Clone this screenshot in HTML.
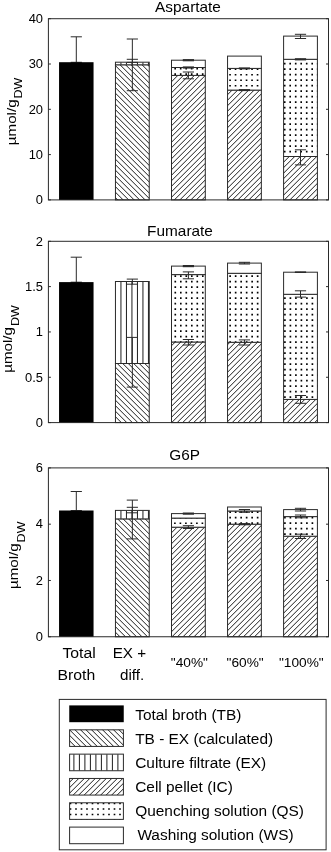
<!DOCTYPE html>
<html><head><meta charset="utf-8"><title>Chart</title>
<style>
html,body{margin:0;padding:0;background:#fff;}
body{width:331px;height:852px;overflow:hidden;}
svg{display:block;will-change:transform;font-family:"Liberation Sans", sans-serif;fill:#000;}
</style></head><body>
<svg width="331" height="852" viewBox="0 0 331 852">
<rect width="331" height="852" fill="#fff"/>

<line x1="76.3" y1="36.8" x2="76.3" y2="62.3" stroke="#2a2a2a" stroke-width="1.0"/>
<line x1="70.7" y1="36.8" x2="81.9" y2="36.8" stroke="#2a2a2a" stroke-width="1.0"/>
<line x1="70.7" y1="62.3" x2="81.9" y2="62.3" stroke="#2a2a2a" stroke-width="1.0"/>
<rect x="59.05" y="62.2" width="34.5" height="137.8" fill="#000"/>
<rect x="115.45" y="64.8" width="33.8" height="135.1" fill="#fff"/>
<clipPath id="c1"><rect x="115.45" y="64.8" width="33.8" height="135.1"/></clipPath>
<path clip-path="url(#c1)" d="M114.45 196.7L150.25 232.5M114.45 191.2L150.25 227M114.45 185.7L150.25 221.5M114.45 180.2L150.25 216M114.45 174.7L150.25 210.5M114.45 169.2L150.25 205M114.45 163.7L150.25 199.5M114.45 158.2L150.25 194M114.45 152.7L150.25 188.5M114.45 147.2L150.25 183M114.45 141.7L150.25 177.5M114.45 136.2L150.25 172M114.45 130.7L150.25 166.5M114.45 125.2L150.25 161M114.45 119.7L150.25 155.5M114.45 114.2L150.25 150M114.45 108.7L150.25 144.5M114.45 103.2L150.25 139M114.45 97.7L150.25 133.5M114.45 92.2L150.25 128M114.45 86.7L150.25 122.5M114.45 81.2L150.25 117M114.45 75.7L150.25 111.5M114.45 70.2L150.25 106M114.45 64.7L150.25 100.5M114.45 59.2L150.25 95M114.45 53.7L150.25 89.5M114.45 48.2L150.25 84M114.45 42.7L150.25 78.5M114.45 37.2L150.25 73M114.45 31.7L150.25 67.5" stroke="#1c1c1c" stroke-width="1.0" fill="none"/>
<rect x="115.45" y="64.8" width="33.8" height="135.1" fill="none" stroke="#2a2a2a" stroke-width="1.0"/>
<rect x="115.45" y="62.2" width="33.8" height="2.6" fill="#fff"/>
<clipPath id="c2"><rect x="115.45" y="62.2" width="33.8" height="2.6"/></clipPath>
<path clip-path="url(#c2)" d="M120.95 62.2V64.8M126.45 62.2V64.8M131.95 62.2V64.8M137.45 62.2V64.8M142.95 62.2V64.8M148.45 62.2V64.8" stroke="#1c1c1c" stroke-width="1.0" fill="none"/>
<rect x="115.45" y="62.2" width="33.8" height="2.6" fill="none" stroke="#2a2a2a" stroke-width="1.0"/>
<line x1="132.35" y1="39" x2="132.35" y2="90.7" stroke="#2a2a2a" stroke-width="1.0"/>
<line x1="126.75" y1="39" x2="137.95" y2="39" stroke="#2a2a2a" stroke-width="1.0"/>
<line x1="126.75" y1="90.7" x2="137.95" y2="90.7" stroke="#2a2a2a" stroke-width="1.0"/>
<line x1="132.35" y1="59.3" x2="132.35" y2="62.4" stroke="#2a2a2a" stroke-width="1.0"/>
<line x1="126.75" y1="59.3" x2="137.95" y2="59.3" stroke="#2a2a2a" stroke-width="1.0"/>
<line x1="126.75" y1="62.4" x2="137.95" y2="62.4" stroke="#2a2a2a" stroke-width="1.0"/>
<rect x="171.5" y="75.4" width="33.8" height="124.5" fill="#fff"/>
<clipPath id="c3"><rect x="171.5" y="75.4" width="33.8" height="124.5"/></clipPath>
<path clip-path="url(#c3)" d="M170.5 77.25L206.3 41.45M170.5 82.75L206.3 46.95M170.5 88.25L206.3 52.45M170.5 93.75L206.3 57.95M170.5 99.25L206.3 63.45M170.5 104.75L206.3 68.95M170.5 110.25L206.3 74.45M170.5 115.75L206.3 79.95M170.5 121.25L206.3 85.45M170.5 126.75L206.3 90.95M170.5 132.25L206.3 96.45M170.5 137.75L206.3 101.95M170.5 143.25L206.3 107.45M170.5 148.75L206.3 112.95M170.5 154.25L206.3 118.45M170.5 159.75L206.3 123.95M170.5 165.25L206.3 129.45M170.5 170.75L206.3 134.95M170.5 176.25L206.3 140.45M170.5 181.75L206.3 145.95M170.5 187.25L206.3 151.45M170.5 192.75L206.3 156.95M170.5 198.25L206.3 162.45M170.5 203.75L206.3 167.95M170.5 209.25L206.3 173.45M170.5 214.75L206.3 178.95M170.5 220.25L206.3 184.45M170.5 225.75L206.3 189.95M170.5 231.25L206.3 195.45" stroke="#1c1c1c" stroke-width="1.0" fill="none"/>
<rect x="171.5" y="75.4" width="33.8" height="124.5" fill="none" stroke="#2a2a2a" stroke-width="1.0"/>
<rect x="171.5" y="67.5" width="33.8" height="7.9" fill="#fff"/>
<clipPath id="c4"><rect x="171.5" y="67.5" width="33.8" height="7.9"/></clipPath>
<path clip-path="url(#c4)" d="M174.37 62.27h1.65v1.65h-1.65zM179.87 62.27h1.65v1.65h-1.65zM185.37 62.27h1.65v1.65h-1.65zM190.87 62.27h1.65v1.65h-1.65zM196.37 62.27h1.65v1.65h-1.65zM201.87 62.27h1.65v1.65h-1.65zM174.37 67.77h1.65v1.65h-1.65zM179.87 67.77h1.65v1.65h-1.65zM185.37 67.77h1.65v1.65h-1.65zM190.87 67.77h1.65v1.65h-1.65zM196.37 67.77h1.65v1.65h-1.65zM201.87 67.77h1.65v1.65h-1.65zM174.37 73.27h1.65v1.65h-1.65zM179.87 73.27h1.65v1.65h-1.65zM185.37 73.27h1.65v1.65h-1.65zM190.87 73.27h1.65v1.65h-1.65zM196.37 73.27h1.65v1.65h-1.65zM201.87 73.27h1.65v1.65h-1.65z" fill="#000"/>
<rect x="171.5" y="67.5" width="33.8" height="7.9" fill="none" stroke="#2a2a2a" stroke-width="1.0"/>
<rect x="171.5" y="60.2" width="33.8" height="7.3" fill="#fff"/>
<rect x="171.5" y="60.2" width="33.8" height="7.3" fill="none" stroke="#2a2a2a" stroke-width="1.0"/>
<line x1="188.4" y1="72" x2="188.4" y2="78.8" stroke="#2a2a2a" stroke-width="1.0"/>
<line x1="182.8" y1="72" x2="194" y2="72" stroke="#2a2a2a" stroke-width="1.0"/>
<line x1="182.8" y1="78.8" x2="194" y2="78.8" stroke="#2a2a2a" stroke-width="1.0"/>
<line x1="188.4" y1="67" x2="188.4" y2="68" stroke="#2a2a2a" stroke-width="1.2"/>
<line x1="182.8" y1="67" x2="194" y2="67" stroke="#2a2a2a" stroke-width="1.2"/>
<line x1="182.8" y1="68" x2="194" y2="68" stroke="#2a2a2a" stroke-width="1.2"/>
<line x1="188.4" y1="59.7" x2="188.4" y2="60.7" stroke="#2a2a2a" stroke-width="1.2"/>
<line x1="182.8" y1="59.7" x2="194" y2="59.7" stroke="#2a2a2a" stroke-width="1.2"/>
<line x1="182.8" y1="60.7" x2="194" y2="60.7" stroke="#2a2a2a" stroke-width="1.2"/>
<rect x="227.55" y="90.1" width="33.8" height="109.8" fill="#fff"/>
<clipPath id="c5"><rect x="227.55" y="90.1" width="33.8" height="109.8"/></clipPath>
<path clip-path="url(#c5)" d="M226.55 95.7L262.35 59.9M226.55 101.2L262.35 65.4M226.55 106.7L262.35 70.9M226.55 112.2L262.35 76.4M226.55 117.7L262.35 81.9M226.55 123.2L262.35 87.4M226.55 128.7L262.35 92.9M226.55 134.2L262.35 98.4M226.55 139.7L262.35 103.9M226.55 145.2L262.35 109.4M226.55 150.7L262.35 114.9M226.55 156.2L262.35 120.4M226.55 161.7L262.35 125.9M226.55 167.2L262.35 131.4M226.55 172.7L262.35 136.9M226.55 178.2L262.35 142.4M226.55 183.7L262.35 147.9M226.55 189.2L262.35 153.4M226.55 194.7L262.35 158.9M226.55 200.2L262.35 164.4M226.55 205.7L262.35 169.9M226.55 211.2L262.35 175.4M226.55 216.7L262.35 180.9M226.55 222.2L262.35 186.4M226.55 227.7L262.35 191.9M226.55 233.2L262.35 197.4" stroke="#1c1c1c" stroke-width="1.0" fill="none"/>
<rect x="227.55" y="90.1" width="33.8" height="109.8" fill="none" stroke="#2a2a2a" stroke-width="1.0"/>
<rect x="227.55" y="68.4" width="33.8" height="21.7" fill="#fff"/>
<clipPath id="c6"><rect x="227.55" y="68.4" width="33.8" height="21.7"/></clipPath>
<path clip-path="url(#c6)" d="M229.22 62.88h1.65v1.65h-1.65zM234.72 62.88h1.65v1.65h-1.65zM240.22 62.88h1.65v1.65h-1.65zM245.72 62.88h1.65v1.65h-1.65zM251.22 62.88h1.65v1.65h-1.65zM256.72 62.88h1.65v1.65h-1.65zM229.22 68.38h1.65v1.65h-1.65zM234.72 68.38h1.65v1.65h-1.65zM240.22 68.38h1.65v1.65h-1.65zM245.72 68.38h1.65v1.65h-1.65zM251.22 68.38h1.65v1.65h-1.65zM256.72 68.38h1.65v1.65h-1.65zM229.22 73.88h1.65v1.65h-1.65zM234.72 73.88h1.65v1.65h-1.65zM240.22 73.88h1.65v1.65h-1.65zM245.72 73.88h1.65v1.65h-1.65zM251.22 73.88h1.65v1.65h-1.65zM256.72 73.88h1.65v1.65h-1.65zM229.22 79.38h1.65v1.65h-1.65zM234.72 79.38h1.65v1.65h-1.65zM240.22 79.38h1.65v1.65h-1.65zM245.72 79.38h1.65v1.65h-1.65zM251.22 79.38h1.65v1.65h-1.65zM256.72 79.38h1.65v1.65h-1.65zM229.22 84.88h1.65v1.65h-1.65zM234.72 84.88h1.65v1.65h-1.65zM240.22 84.88h1.65v1.65h-1.65zM245.72 84.88h1.65v1.65h-1.65zM251.22 84.88h1.65v1.65h-1.65zM256.72 84.88h1.65v1.65h-1.65z" fill="#000"/>
<rect x="227.55" y="68.4" width="33.8" height="21.7" fill="none" stroke="#2a2a2a" stroke-width="1.0"/>
<rect x="227.55" y="56.1" width="33.8" height="12.3" fill="#fff"/>
<rect x="227.55" y="56.1" width="33.8" height="12.3" fill="none" stroke="#2a2a2a" stroke-width="1.0"/>
<line x1="244.45" y1="89.7" x2="244.45" y2="90.5" stroke="#2a2a2a" stroke-width="1.2"/>
<line x1="238.85" y1="89.7" x2="250.05" y2="89.7" stroke="#2a2a2a" stroke-width="1.2"/>
<line x1="238.85" y1="90.5" x2="250.05" y2="90.5" stroke="#2a2a2a" stroke-width="1.2"/>
<line x1="244.45" y1="68" x2="244.45" y2="68.8" stroke="#2a2a2a" stroke-width="1.2"/>
<line x1="238.85" y1="68" x2="250.05" y2="68" stroke="#2a2a2a" stroke-width="1.2"/>
<line x1="238.85" y1="68.8" x2="250.05" y2="68.8" stroke="#2a2a2a" stroke-width="1.2"/>
<rect x="283.6" y="156.5" width="33.8" height="43.4" fill="#fff"/>
<clipPath id="c7"><rect x="283.6" y="156.5" width="33.8" height="43.4"/></clipPath>
<path clip-path="url(#c7)" d="M282.6 163.15L318.4 127.35M282.6 168.65L318.4 132.85M282.6 174.15L318.4 138.35M282.6 179.65L318.4 143.85M282.6 185.15L318.4 149.35M282.6 190.65L318.4 154.85M282.6 196.15L318.4 160.35M282.6 201.65L318.4 165.85M282.6 207.15L318.4 171.35M282.6 212.65L318.4 176.85M282.6 218.15L318.4 182.35M282.6 223.65L318.4 187.85M282.6 229.15L318.4 193.35M282.6 234.65L318.4 198.85" stroke="#1c1c1c" stroke-width="1.0" fill="none"/>
<rect x="283.6" y="156.5" width="33.8" height="43.4" fill="none" stroke="#2a2a2a" stroke-width="1.0"/>
<rect x="283.6" y="59.3" width="33.8" height="97.2" fill="#fff"/>
<clipPath id="c8"><rect x="283.6" y="59.3" width="33.8" height="97.2"/></clipPath>
<path clip-path="url(#c8)" d="M283.88 57.27h1.65v1.65h-1.65zM289.38 57.27h1.65v1.65h-1.65zM294.88 57.27h1.65v1.65h-1.65zM300.38 57.27h1.65v1.65h-1.65zM305.88 57.27h1.65v1.65h-1.65zM311.38 57.27h1.65v1.65h-1.65zM316.88 57.27h1.65v1.65h-1.65zM283.88 62.77h1.65v1.65h-1.65zM289.38 62.77h1.65v1.65h-1.65zM294.88 62.77h1.65v1.65h-1.65zM300.38 62.77h1.65v1.65h-1.65zM305.88 62.77h1.65v1.65h-1.65zM311.38 62.77h1.65v1.65h-1.65zM316.88 62.77h1.65v1.65h-1.65zM283.88 68.27h1.65v1.65h-1.65zM289.38 68.27h1.65v1.65h-1.65zM294.88 68.27h1.65v1.65h-1.65zM300.38 68.27h1.65v1.65h-1.65zM305.88 68.27h1.65v1.65h-1.65zM311.38 68.27h1.65v1.65h-1.65zM316.88 68.27h1.65v1.65h-1.65zM283.88 73.77h1.65v1.65h-1.65zM289.38 73.77h1.65v1.65h-1.65zM294.88 73.77h1.65v1.65h-1.65zM300.38 73.77h1.65v1.65h-1.65zM305.88 73.77h1.65v1.65h-1.65zM311.38 73.77h1.65v1.65h-1.65zM316.88 73.77h1.65v1.65h-1.65zM283.88 79.27h1.65v1.65h-1.65zM289.38 79.27h1.65v1.65h-1.65zM294.88 79.27h1.65v1.65h-1.65zM300.38 79.27h1.65v1.65h-1.65zM305.88 79.27h1.65v1.65h-1.65zM311.38 79.27h1.65v1.65h-1.65zM316.88 79.27h1.65v1.65h-1.65zM283.88 84.77h1.65v1.65h-1.65zM289.38 84.77h1.65v1.65h-1.65zM294.88 84.77h1.65v1.65h-1.65zM300.38 84.77h1.65v1.65h-1.65zM305.88 84.77h1.65v1.65h-1.65zM311.38 84.77h1.65v1.65h-1.65zM316.88 84.77h1.65v1.65h-1.65zM283.88 90.27h1.65v1.65h-1.65zM289.38 90.27h1.65v1.65h-1.65zM294.88 90.27h1.65v1.65h-1.65zM300.38 90.27h1.65v1.65h-1.65zM305.88 90.27h1.65v1.65h-1.65zM311.38 90.27h1.65v1.65h-1.65zM316.88 90.27h1.65v1.65h-1.65zM283.88 95.77h1.65v1.65h-1.65zM289.38 95.77h1.65v1.65h-1.65zM294.88 95.77h1.65v1.65h-1.65zM300.38 95.77h1.65v1.65h-1.65zM305.88 95.77h1.65v1.65h-1.65zM311.38 95.77h1.65v1.65h-1.65zM316.88 95.77h1.65v1.65h-1.65zM283.88 101.27h1.65v1.65h-1.65zM289.38 101.27h1.65v1.65h-1.65zM294.88 101.27h1.65v1.65h-1.65zM300.38 101.27h1.65v1.65h-1.65zM305.88 101.27h1.65v1.65h-1.65zM311.38 101.27h1.65v1.65h-1.65zM316.88 101.27h1.65v1.65h-1.65zM283.88 106.77h1.65v1.65h-1.65zM289.38 106.77h1.65v1.65h-1.65zM294.88 106.77h1.65v1.65h-1.65zM300.38 106.77h1.65v1.65h-1.65zM305.88 106.77h1.65v1.65h-1.65zM311.38 106.77h1.65v1.65h-1.65zM316.88 106.77h1.65v1.65h-1.65zM283.88 112.27h1.65v1.65h-1.65zM289.38 112.27h1.65v1.65h-1.65zM294.88 112.27h1.65v1.65h-1.65zM300.38 112.27h1.65v1.65h-1.65zM305.88 112.27h1.65v1.65h-1.65zM311.38 112.27h1.65v1.65h-1.65zM316.88 112.27h1.65v1.65h-1.65zM283.88 117.77h1.65v1.65h-1.65zM289.38 117.77h1.65v1.65h-1.65zM294.88 117.77h1.65v1.65h-1.65zM300.38 117.77h1.65v1.65h-1.65zM305.88 117.77h1.65v1.65h-1.65zM311.38 117.77h1.65v1.65h-1.65zM316.88 117.77h1.65v1.65h-1.65zM283.88 123.27h1.65v1.65h-1.65zM289.38 123.27h1.65v1.65h-1.65zM294.88 123.27h1.65v1.65h-1.65zM300.38 123.27h1.65v1.65h-1.65zM305.88 123.27h1.65v1.65h-1.65zM311.38 123.27h1.65v1.65h-1.65zM316.88 123.27h1.65v1.65h-1.65zM283.88 128.78h1.65v1.65h-1.65zM289.38 128.78h1.65v1.65h-1.65zM294.88 128.78h1.65v1.65h-1.65zM300.38 128.78h1.65v1.65h-1.65zM305.88 128.78h1.65v1.65h-1.65zM311.38 128.78h1.65v1.65h-1.65zM316.88 128.78h1.65v1.65h-1.65zM283.88 134.28h1.65v1.65h-1.65zM289.38 134.28h1.65v1.65h-1.65zM294.88 134.28h1.65v1.65h-1.65zM300.38 134.28h1.65v1.65h-1.65zM305.88 134.28h1.65v1.65h-1.65zM311.38 134.28h1.65v1.65h-1.65zM316.88 134.28h1.65v1.65h-1.65zM283.88 139.78h1.65v1.65h-1.65zM289.38 139.78h1.65v1.65h-1.65zM294.88 139.78h1.65v1.65h-1.65zM300.38 139.78h1.65v1.65h-1.65zM305.88 139.78h1.65v1.65h-1.65zM311.38 139.78h1.65v1.65h-1.65zM316.88 139.78h1.65v1.65h-1.65zM283.88 145.28h1.65v1.65h-1.65zM289.38 145.28h1.65v1.65h-1.65zM294.88 145.28h1.65v1.65h-1.65zM300.38 145.28h1.65v1.65h-1.65zM305.88 145.28h1.65v1.65h-1.65zM311.38 145.28h1.65v1.65h-1.65zM316.88 145.28h1.65v1.65h-1.65zM283.88 150.78h1.65v1.65h-1.65zM289.38 150.78h1.65v1.65h-1.65zM294.88 150.78h1.65v1.65h-1.65zM300.38 150.78h1.65v1.65h-1.65zM305.88 150.78h1.65v1.65h-1.65zM311.38 150.78h1.65v1.65h-1.65zM316.88 150.78h1.65v1.65h-1.65zM283.88 156.28h1.65v1.65h-1.65zM289.38 156.28h1.65v1.65h-1.65zM294.88 156.28h1.65v1.65h-1.65zM300.38 156.28h1.65v1.65h-1.65zM305.88 156.28h1.65v1.65h-1.65zM311.38 156.28h1.65v1.65h-1.65zM316.88 156.28h1.65v1.65h-1.65z" fill="#000"/>
<rect x="283.6" y="59.3" width="33.8" height="97.2" fill="none" stroke="#2a2a2a" stroke-width="1.0"/>
<rect x="283.6" y="36.1" width="33.8" height="23.2" fill="#fff"/>
<rect x="283.6" y="36.1" width="33.8" height="23.2" fill="none" stroke="#2a2a2a" stroke-width="1.0"/>
<line x1="300.5" y1="149.8" x2="300.5" y2="164.9" stroke="#2a2a2a" stroke-width="1.0"/>
<line x1="294.9" y1="149.8" x2="306.1" y2="149.8" stroke="#2a2a2a" stroke-width="1.0"/>
<line x1="294.9" y1="164.9" x2="306.1" y2="164.9" stroke="#2a2a2a" stroke-width="1.0"/>
<line x1="300.5" y1="58.8" x2="300.5" y2="59.8" stroke="#2a2a2a" stroke-width="1.2"/>
<line x1="294.9" y1="58.8" x2="306.1" y2="58.8" stroke="#2a2a2a" stroke-width="1.2"/>
<line x1="294.9" y1="59.8" x2="306.1" y2="59.8" stroke="#2a2a2a" stroke-width="1.2"/>
<line x1="300.5" y1="34.3" x2="300.5" y2="38.5" stroke="#2a2a2a" stroke-width="1.0"/>
<line x1="294.9" y1="34.3" x2="306.1" y2="34.3" stroke="#2a2a2a" stroke-width="1.0"/>
<line x1="294.9" y1="38.5" x2="306.1" y2="38.5" stroke="#2a2a2a" stroke-width="1.0"/>
<rect x="48.4" y="18.7" width="280.1" height="181.2" fill="none" stroke="#2a2a2a" stroke-width="1.0"/>
<line x1="48.4" y1="18.7" x2="50.9" y2="18.7" stroke="#2a2a2a" stroke-width="1.0"/>
<line x1="326" y1="18.7" x2="328.5" y2="18.7" stroke="#2a2a2a" stroke-width="1.0"/>
<text transform="translate(43,23) scale(1.05,1)" font-size="12.3" text-anchor="end">40</text>
<line x1="48.4" y1="64" x2="50.9" y2="64" stroke="#2a2a2a" stroke-width="1.0"/>
<line x1="326" y1="64" x2="328.5" y2="64" stroke="#2a2a2a" stroke-width="1.0"/>
<text transform="translate(43,68.3) scale(1.05,1)" font-size="12.3" text-anchor="end">30</text>
<line x1="48.4" y1="109.3" x2="50.9" y2="109.3" stroke="#2a2a2a" stroke-width="1.0"/>
<line x1="326" y1="109.3" x2="328.5" y2="109.3" stroke="#2a2a2a" stroke-width="1.0"/>
<text transform="translate(43,113.6) scale(1.05,1)" font-size="12.3" text-anchor="end">20</text>
<line x1="48.4" y1="154.6" x2="50.9" y2="154.6" stroke="#2a2a2a" stroke-width="1.0"/>
<line x1="326" y1="154.6" x2="328.5" y2="154.6" stroke="#2a2a2a" stroke-width="1.0"/>
<text transform="translate(43,158.9) scale(1.05,1)" font-size="12.3" text-anchor="end">10</text>
<line x1="48.4" y1="199.9" x2="50.9" y2="199.9" stroke="#2a2a2a" stroke-width="1.0"/>
<line x1="326" y1="199.9" x2="328.5" y2="199.9" stroke="#2a2a2a" stroke-width="1.0"/>
<text transform="translate(43,204.2) scale(1.05,1)" font-size="12.3" text-anchor="end">0</text>
<text transform="translate(188,12.1) scale(1.06,1)" font-size="14.5" text-anchor="middle">Aspartate</text>
<g transform="translate(15.5,145.2) rotate(-90)"><text transform="scale(1.14,1)" x="0" y="0" font-size="13.3">µmol/g</text><text transform="translate(46.7,6.3) scale(1.17,1)" x="0" y="0" font-size="10.7">DW</text></g>
<line x1="76.3" y1="257.2" x2="76.3" y2="282.2" stroke="#2a2a2a" stroke-width="1.0"/>
<line x1="70.7" y1="257.2" x2="81.9" y2="257.2" stroke="#2a2a2a" stroke-width="1.0"/>
<line x1="70.7" y1="282.2" x2="81.9" y2="282.2" stroke="#2a2a2a" stroke-width="1.0"/>
<rect x="59.05" y="282.1" width="34.5" height="140.6" fill="#000"/>
<rect x="115.45" y="363.5" width="33.8" height="59.1" fill="#fff"/>
<clipPath id="c9"><rect x="115.45" y="363.5" width="33.8" height="59.1"/></clipPath>
<path clip-path="url(#c9)" d="M114.45 421.2L150.25 457M114.45 415.7L150.25 451.5M114.45 410.2L150.25 446M114.45 404.7L150.25 440.5M114.45 399.2L150.25 435M114.45 393.7L150.25 429.5M114.45 388.2L150.25 424M114.45 382.7L150.25 418.5M114.45 377.2L150.25 413M114.45 371.7L150.25 407.5M114.45 366.2L150.25 402M114.45 360.7L150.25 396.5M114.45 355.2L150.25 391M114.45 349.7L150.25 385.5M114.45 344.2L150.25 380M114.45 338.7L150.25 374.5M114.45 333.2L150.25 369" stroke="#1c1c1c" stroke-width="1.0" fill="none"/>
<rect x="115.45" y="363.5" width="33.8" height="59.1" fill="none" stroke="#2a2a2a" stroke-width="1.0"/>
<rect x="115.45" y="281.5" width="33.8" height="82" fill="#fff"/>
<clipPath id="c10"><rect x="115.45" y="281.5" width="33.8" height="82"/></clipPath>
<path clip-path="url(#c10)" d="M120.95 281.5V363.5M126.45 281.5V363.5M131.95 281.5V363.5M137.45 281.5V363.5M142.95 281.5V363.5M148.45 281.5V363.5" stroke="#1c1c1c" stroke-width="1.0" fill="none"/>
<rect x="115.45" y="281.5" width="33.8" height="82" fill="none" stroke="#2a2a2a" stroke-width="1.0"/>
<line x1="132.35" y1="337.4" x2="132.35" y2="387.1" stroke="#2a2a2a" stroke-width="1.0"/>
<line x1="126.75" y1="337.4" x2="137.95" y2="337.4" stroke="#2a2a2a" stroke-width="1.0"/>
<line x1="126.75" y1="387.1" x2="137.95" y2="387.1" stroke="#2a2a2a" stroke-width="1.0"/>
<line x1="132.35" y1="279.1" x2="132.35" y2="284.2" stroke="#2a2a2a" stroke-width="1.0"/>
<line x1="126.75" y1="279.1" x2="137.95" y2="279.1" stroke="#2a2a2a" stroke-width="1.0"/>
<line x1="126.75" y1="284.2" x2="137.95" y2="284.2" stroke="#2a2a2a" stroke-width="1.0"/>
<rect x="171.5" y="342" width="33.8" height="80.6" fill="#fff"/>
<clipPath id="c11"><rect x="171.5" y="342" width="33.8" height="80.6"/></clipPath>
<path clip-path="url(#c11)" d="M170.5 346.75L206.3 310.95M170.5 352.25L206.3 316.45M170.5 357.75L206.3 321.95M170.5 363.25L206.3 327.45M170.5 368.75L206.3 332.95M170.5 374.25L206.3 338.45M170.5 379.75L206.3 343.95M170.5 385.25L206.3 349.45M170.5 390.75L206.3 354.95M170.5 396.25L206.3 360.45M170.5 401.75L206.3 365.95M170.5 407.25L206.3 371.45M170.5 412.75L206.3 376.95M170.5 418.25L206.3 382.45M170.5 423.75L206.3 387.95M170.5 429.25L206.3 393.45M170.5 434.75L206.3 398.95M170.5 440.25L206.3 404.45M170.5 445.75L206.3 409.95M170.5 451.25L206.3 415.45M170.5 456.75L206.3 420.95" stroke="#1c1c1c" stroke-width="1.0" fill="none"/>
<rect x="171.5" y="342" width="33.8" height="80.6" fill="none" stroke="#2a2a2a" stroke-width="1.0"/>
<rect x="171.5" y="274.6" width="33.8" height="67.4" fill="#fff"/>
<clipPath id="c12"><rect x="171.5" y="274.6" width="33.8" height="67.4"/></clipPath>
<path clip-path="url(#c12)" d="M174.47 269.78h1.65v1.65h-1.65zM179.97 269.78h1.65v1.65h-1.65zM185.47 269.78h1.65v1.65h-1.65zM190.97 269.78h1.65v1.65h-1.65zM196.47 269.78h1.65v1.65h-1.65zM201.97 269.78h1.65v1.65h-1.65zM174.47 275.28h1.65v1.65h-1.65zM179.97 275.28h1.65v1.65h-1.65zM185.47 275.28h1.65v1.65h-1.65zM190.97 275.28h1.65v1.65h-1.65zM196.47 275.28h1.65v1.65h-1.65zM201.97 275.28h1.65v1.65h-1.65zM174.47 280.78h1.65v1.65h-1.65zM179.97 280.78h1.65v1.65h-1.65zM185.47 280.78h1.65v1.65h-1.65zM190.97 280.78h1.65v1.65h-1.65zM196.47 280.78h1.65v1.65h-1.65zM201.97 280.78h1.65v1.65h-1.65zM174.47 286.28h1.65v1.65h-1.65zM179.97 286.28h1.65v1.65h-1.65zM185.47 286.28h1.65v1.65h-1.65zM190.97 286.28h1.65v1.65h-1.65zM196.47 286.28h1.65v1.65h-1.65zM201.97 286.28h1.65v1.65h-1.65zM174.47 291.78h1.65v1.65h-1.65zM179.97 291.78h1.65v1.65h-1.65zM185.47 291.78h1.65v1.65h-1.65zM190.97 291.78h1.65v1.65h-1.65zM196.47 291.78h1.65v1.65h-1.65zM201.97 291.78h1.65v1.65h-1.65zM174.47 297.28h1.65v1.65h-1.65zM179.97 297.28h1.65v1.65h-1.65zM185.47 297.28h1.65v1.65h-1.65zM190.97 297.28h1.65v1.65h-1.65zM196.47 297.28h1.65v1.65h-1.65zM201.97 297.28h1.65v1.65h-1.65zM174.47 302.78h1.65v1.65h-1.65zM179.97 302.78h1.65v1.65h-1.65zM185.47 302.78h1.65v1.65h-1.65zM190.97 302.78h1.65v1.65h-1.65zM196.47 302.78h1.65v1.65h-1.65zM201.97 302.78h1.65v1.65h-1.65zM174.47 308.28h1.65v1.65h-1.65zM179.97 308.28h1.65v1.65h-1.65zM185.47 308.28h1.65v1.65h-1.65zM190.97 308.28h1.65v1.65h-1.65zM196.47 308.28h1.65v1.65h-1.65zM201.97 308.28h1.65v1.65h-1.65zM174.47 313.78h1.65v1.65h-1.65zM179.97 313.78h1.65v1.65h-1.65zM185.47 313.78h1.65v1.65h-1.65zM190.97 313.78h1.65v1.65h-1.65zM196.47 313.78h1.65v1.65h-1.65zM201.97 313.78h1.65v1.65h-1.65zM174.47 319.28h1.65v1.65h-1.65zM179.97 319.28h1.65v1.65h-1.65zM185.47 319.28h1.65v1.65h-1.65zM190.97 319.28h1.65v1.65h-1.65zM196.47 319.28h1.65v1.65h-1.65zM201.97 319.28h1.65v1.65h-1.65zM174.47 324.78h1.65v1.65h-1.65zM179.97 324.78h1.65v1.65h-1.65zM185.47 324.78h1.65v1.65h-1.65zM190.97 324.78h1.65v1.65h-1.65zM196.47 324.78h1.65v1.65h-1.65zM201.97 324.78h1.65v1.65h-1.65zM174.47 330.28h1.65v1.65h-1.65zM179.97 330.28h1.65v1.65h-1.65zM185.47 330.28h1.65v1.65h-1.65zM190.97 330.28h1.65v1.65h-1.65zM196.47 330.28h1.65v1.65h-1.65zM201.97 330.28h1.65v1.65h-1.65zM174.47 335.78h1.65v1.65h-1.65zM179.97 335.78h1.65v1.65h-1.65zM185.47 335.78h1.65v1.65h-1.65zM190.97 335.78h1.65v1.65h-1.65zM196.47 335.78h1.65v1.65h-1.65zM201.97 335.78h1.65v1.65h-1.65zM174.47 341.28h1.65v1.65h-1.65zM179.97 341.28h1.65v1.65h-1.65zM185.47 341.28h1.65v1.65h-1.65zM190.97 341.28h1.65v1.65h-1.65zM196.47 341.28h1.65v1.65h-1.65zM201.97 341.28h1.65v1.65h-1.65z" fill="#000"/>
<rect x="171.5" y="274.6" width="33.8" height="67.4" fill="none" stroke="#2a2a2a" stroke-width="1.0"/>
<rect x="171.5" y="266.1" width="33.8" height="8.5" fill="#fff"/>
<rect x="171.5" y="266.1" width="33.8" height="8.5" fill="none" stroke="#2a2a2a" stroke-width="1.0"/>
<line x1="188.4" y1="339.5" x2="188.4" y2="345" stroke="#2a2a2a" stroke-width="1.0"/>
<line x1="182.8" y1="339.5" x2="194" y2="339.5" stroke="#2a2a2a" stroke-width="1.0"/>
<line x1="182.8" y1="345" x2="194" y2="345" stroke="#2a2a2a" stroke-width="1.0"/>
<line x1="188.4" y1="271.9" x2="188.4" y2="278.8" stroke="#2a2a2a" stroke-width="1.0"/>
<line x1="182.8" y1="271.9" x2="194" y2="271.9" stroke="#2a2a2a" stroke-width="1.0"/>
<line x1="182.8" y1="278.8" x2="194" y2="278.8" stroke="#2a2a2a" stroke-width="1.0"/>
<line x1="188.4" y1="265.6" x2="188.4" y2="266.6" stroke="#2a2a2a" stroke-width="1.2"/>
<line x1="182.8" y1="265.6" x2="194" y2="265.6" stroke="#2a2a2a" stroke-width="1.2"/>
<line x1="182.8" y1="266.6" x2="194" y2="266.6" stroke="#2a2a2a" stroke-width="1.2"/>
<rect x="227.55" y="342.3" width="33.8" height="80.3" fill="#fff"/>
<clipPath id="c13"><rect x="227.55" y="342.3" width="33.8" height="80.3"/></clipPath>
<path clip-path="url(#c13)" d="M226.55 345.7L262.35 309.9M226.55 351.2L262.35 315.4M226.55 356.7L262.35 320.9M226.55 362.2L262.35 326.4M226.55 367.7L262.35 331.9M226.55 373.2L262.35 337.4M226.55 378.7L262.35 342.9M226.55 384.2L262.35 348.4M226.55 389.7L262.35 353.9M226.55 395.2L262.35 359.4M226.55 400.7L262.35 364.9M226.55 406.2L262.35 370.4M226.55 411.7L262.35 375.9M226.55 417.2L262.35 381.4M226.55 422.7L262.35 386.9M226.55 428.2L262.35 392.4M226.55 433.7L262.35 397.9M226.55 439.2L262.35 403.4M226.55 444.7L262.35 408.9M226.55 450.2L262.35 414.4M226.55 455.7L262.35 419.9" stroke="#1c1c1c" stroke-width="1.0" fill="none"/>
<rect x="227.55" y="342.3" width="33.8" height="80.3" fill="none" stroke="#2a2a2a" stroke-width="1.0"/>
<rect x="227.55" y="273.3" width="33.8" height="69" fill="#fff"/>
<clipPath id="c14"><rect x="227.55" y="273.3" width="33.8" height="69"/></clipPath>
<path clip-path="url(#c14)" d="M229.32 269.78h1.65v1.65h-1.65zM234.82 269.78h1.65v1.65h-1.65zM240.32 269.78h1.65v1.65h-1.65zM245.82 269.78h1.65v1.65h-1.65zM251.32 269.78h1.65v1.65h-1.65zM256.82 269.78h1.65v1.65h-1.65zM229.32 275.28h1.65v1.65h-1.65zM234.82 275.28h1.65v1.65h-1.65zM240.32 275.28h1.65v1.65h-1.65zM245.82 275.28h1.65v1.65h-1.65zM251.32 275.28h1.65v1.65h-1.65zM256.82 275.28h1.65v1.65h-1.65zM229.32 280.78h1.65v1.65h-1.65zM234.82 280.78h1.65v1.65h-1.65zM240.32 280.78h1.65v1.65h-1.65zM245.82 280.78h1.65v1.65h-1.65zM251.32 280.78h1.65v1.65h-1.65zM256.82 280.78h1.65v1.65h-1.65zM229.32 286.28h1.65v1.65h-1.65zM234.82 286.28h1.65v1.65h-1.65zM240.32 286.28h1.65v1.65h-1.65zM245.82 286.28h1.65v1.65h-1.65zM251.32 286.28h1.65v1.65h-1.65zM256.82 286.28h1.65v1.65h-1.65zM229.32 291.78h1.65v1.65h-1.65zM234.82 291.78h1.65v1.65h-1.65zM240.32 291.78h1.65v1.65h-1.65zM245.82 291.78h1.65v1.65h-1.65zM251.32 291.78h1.65v1.65h-1.65zM256.82 291.78h1.65v1.65h-1.65zM229.32 297.28h1.65v1.65h-1.65zM234.82 297.28h1.65v1.65h-1.65zM240.32 297.28h1.65v1.65h-1.65zM245.82 297.28h1.65v1.65h-1.65zM251.32 297.28h1.65v1.65h-1.65zM256.82 297.28h1.65v1.65h-1.65zM229.32 302.78h1.65v1.65h-1.65zM234.82 302.78h1.65v1.65h-1.65zM240.32 302.78h1.65v1.65h-1.65zM245.82 302.78h1.65v1.65h-1.65zM251.32 302.78h1.65v1.65h-1.65zM256.82 302.78h1.65v1.65h-1.65zM229.32 308.28h1.65v1.65h-1.65zM234.82 308.28h1.65v1.65h-1.65zM240.32 308.28h1.65v1.65h-1.65zM245.82 308.28h1.65v1.65h-1.65zM251.32 308.28h1.65v1.65h-1.65zM256.82 308.28h1.65v1.65h-1.65zM229.32 313.78h1.65v1.65h-1.65zM234.82 313.78h1.65v1.65h-1.65zM240.32 313.78h1.65v1.65h-1.65zM245.82 313.78h1.65v1.65h-1.65zM251.32 313.78h1.65v1.65h-1.65zM256.82 313.78h1.65v1.65h-1.65zM229.32 319.28h1.65v1.65h-1.65zM234.82 319.28h1.65v1.65h-1.65zM240.32 319.28h1.65v1.65h-1.65zM245.82 319.28h1.65v1.65h-1.65zM251.32 319.28h1.65v1.65h-1.65zM256.82 319.28h1.65v1.65h-1.65zM229.32 324.78h1.65v1.65h-1.65zM234.82 324.78h1.65v1.65h-1.65zM240.32 324.78h1.65v1.65h-1.65zM245.82 324.78h1.65v1.65h-1.65zM251.32 324.78h1.65v1.65h-1.65zM256.82 324.78h1.65v1.65h-1.65zM229.32 330.28h1.65v1.65h-1.65zM234.82 330.28h1.65v1.65h-1.65zM240.32 330.28h1.65v1.65h-1.65zM245.82 330.28h1.65v1.65h-1.65zM251.32 330.28h1.65v1.65h-1.65zM256.82 330.28h1.65v1.65h-1.65zM229.32 335.78h1.65v1.65h-1.65zM234.82 335.78h1.65v1.65h-1.65zM240.32 335.78h1.65v1.65h-1.65zM245.82 335.78h1.65v1.65h-1.65zM251.32 335.78h1.65v1.65h-1.65zM256.82 335.78h1.65v1.65h-1.65zM229.32 341.28h1.65v1.65h-1.65zM234.82 341.28h1.65v1.65h-1.65zM240.32 341.28h1.65v1.65h-1.65zM245.82 341.28h1.65v1.65h-1.65zM251.32 341.28h1.65v1.65h-1.65zM256.82 341.28h1.65v1.65h-1.65z" fill="#000"/>
<rect x="227.55" y="273.3" width="33.8" height="69" fill="none" stroke="#2a2a2a" stroke-width="1.0"/>
<rect x="227.55" y="263.1" width="33.8" height="10.2" fill="#fff"/>
<rect x="227.55" y="263.1" width="33.8" height="10.2" fill="none" stroke="#2a2a2a" stroke-width="1.0"/>
<line x1="244.45" y1="339.9" x2="244.45" y2="345" stroke="#2a2a2a" stroke-width="1.0"/>
<line x1="238.85" y1="339.9" x2="250.05" y2="339.9" stroke="#2a2a2a" stroke-width="1.0"/>
<line x1="238.85" y1="345" x2="250.05" y2="345" stroke="#2a2a2a" stroke-width="1.0"/>
<line x1="244.45" y1="262.3" x2="244.45" y2="264" stroke="#2a2a2a" stroke-width="1.0"/>
<line x1="238.85" y1="262.3" x2="250.05" y2="262.3" stroke="#2a2a2a" stroke-width="1.0"/>
<line x1="238.85" y1="264" x2="250.05" y2="264" stroke="#2a2a2a" stroke-width="1.0"/>
<rect x="283.6" y="399.4" width="33.8" height="23.2" fill="#fff"/>
<clipPath id="c15"><rect x="283.6" y="399.4" width="33.8" height="23.2"/></clipPath>
<path clip-path="url(#c15)" d="M282.6 405.15L318.4 369.35M282.6 410.65L318.4 374.85M282.6 416.15L318.4 380.35M282.6 421.65L318.4 385.85M282.6 427.15L318.4 391.35M282.6 432.65L318.4 396.85M282.6 438.15L318.4 402.35M282.6 443.65L318.4 407.85M282.6 449.15L318.4 413.35M282.6 454.65L318.4 418.85" stroke="#1c1c1c" stroke-width="1.0" fill="none"/>
<rect x="283.6" y="399.4" width="33.8" height="23.2" fill="none" stroke="#2a2a2a" stroke-width="1.0"/>
<rect x="283.6" y="294.3" width="33.8" height="105.1" fill="#fff"/>
<clipPath id="c16"><rect x="283.6" y="294.3" width="33.8" height="105.1"/></clipPath>
<path clip-path="url(#c16)" d="M284.08 291.78h1.65v1.65h-1.65zM289.58 291.78h1.65v1.65h-1.65zM295.08 291.78h1.65v1.65h-1.65zM300.58 291.78h1.65v1.65h-1.65zM306.08 291.78h1.65v1.65h-1.65zM311.58 291.78h1.65v1.65h-1.65zM317.08 291.78h1.65v1.65h-1.65zM284.08 297.28h1.65v1.65h-1.65zM289.58 297.28h1.65v1.65h-1.65zM295.08 297.28h1.65v1.65h-1.65zM300.58 297.28h1.65v1.65h-1.65zM306.08 297.28h1.65v1.65h-1.65zM311.58 297.28h1.65v1.65h-1.65zM317.08 297.28h1.65v1.65h-1.65zM284.08 302.78h1.65v1.65h-1.65zM289.58 302.78h1.65v1.65h-1.65zM295.08 302.78h1.65v1.65h-1.65zM300.58 302.78h1.65v1.65h-1.65zM306.08 302.78h1.65v1.65h-1.65zM311.58 302.78h1.65v1.65h-1.65zM317.08 302.78h1.65v1.65h-1.65zM284.08 308.28h1.65v1.65h-1.65zM289.58 308.28h1.65v1.65h-1.65zM295.08 308.28h1.65v1.65h-1.65zM300.58 308.28h1.65v1.65h-1.65zM306.08 308.28h1.65v1.65h-1.65zM311.58 308.28h1.65v1.65h-1.65zM317.08 308.28h1.65v1.65h-1.65zM284.08 313.78h1.65v1.65h-1.65zM289.58 313.78h1.65v1.65h-1.65zM295.08 313.78h1.65v1.65h-1.65zM300.58 313.78h1.65v1.65h-1.65zM306.08 313.78h1.65v1.65h-1.65zM311.58 313.78h1.65v1.65h-1.65zM317.08 313.78h1.65v1.65h-1.65zM284.08 319.28h1.65v1.65h-1.65zM289.58 319.28h1.65v1.65h-1.65zM295.08 319.28h1.65v1.65h-1.65zM300.58 319.28h1.65v1.65h-1.65zM306.08 319.28h1.65v1.65h-1.65zM311.58 319.28h1.65v1.65h-1.65zM317.08 319.28h1.65v1.65h-1.65zM284.08 324.78h1.65v1.65h-1.65zM289.58 324.78h1.65v1.65h-1.65zM295.08 324.78h1.65v1.65h-1.65zM300.58 324.78h1.65v1.65h-1.65zM306.08 324.78h1.65v1.65h-1.65zM311.58 324.78h1.65v1.65h-1.65zM317.08 324.78h1.65v1.65h-1.65zM284.08 330.28h1.65v1.65h-1.65zM289.58 330.28h1.65v1.65h-1.65zM295.08 330.28h1.65v1.65h-1.65zM300.58 330.28h1.65v1.65h-1.65zM306.08 330.28h1.65v1.65h-1.65zM311.58 330.28h1.65v1.65h-1.65zM317.08 330.28h1.65v1.65h-1.65zM284.08 335.78h1.65v1.65h-1.65zM289.58 335.78h1.65v1.65h-1.65zM295.08 335.78h1.65v1.65h-1.65zM300.58 335.78h1.65v1.65h-1.65zM306.08 335.78h1.65v1.65h-1.65zM311.58 335.78h1.65v1.65h-1.65zM317.08 335.78h1.65v1.65h-1.65zM284.08 341.28h1.65v1.65h-1.65zM289.58 341.28h1.65v1.65h-1.65zM295.08 341.28h1.65v1.65h-1.65zM300.58 341.28h1.65v1.65h-1.65zM306.08 341.28h1.65v1.65h-1.65zM311.58 341.28h1.65v1.65h-1.65zM317.08 341.28h1.65v1.65h-1.65zM284.08 346.78h1.65v1.65h-1.65zM289.58 346.78h1.65v1.65h-1.65zM295.08 346.78h1.65v1.65h-1.65zM300.58 346.78h1.65v1.65h-1.65zM306.08 346.78h1.65v1.65h-1.65zM311.58 346.78h1.65v1.65h-1.65zM317.08 346.78h1.65v1.65h-1.65zM284.08 352.28h1.65v1.65h-1.65zM289.58 352.28h1.65v1.65h-1.65zM295.08 352.28h1.65v1.65h-1.65zM300.58 352.28h1.65v1.65h-1.65zM306.08 352.28h1.65v1.65h-1.65zM311.58 352.28h1.65v1.65h-1.65zM317.08 352.28h1.65v1.65h-1.65zM284.08 357.78h1.65v1.65h-1.65zM289.58 357.78h1.65v1.65h-1.65zM295.08 357.78h1.65v1.65h-1.65zM300.58 357.78h1.65v1.65h-1.65zM306.08 357.78h1.65v1.65h-1.65zM311.58 357.78h1.65v1.65h-1.65zM317.08 357.78h1.65v1.65h-1.65zM284.08 363.28h1.65v1.65h-1.65zM289.58 363.28h1.65v1.65h-1.65zM295.08 363.28h1.65v1.65h-1.65zM300.58 363.28h1.65v1.65h-1.65zM306.08 363.28h1.65v1.65h-1.65zM311.58 363.28h1.65v1.65h-1.65zM317.08 363.28h1.65v1.65h-1.65zM284.08 368.78h1.65v1.65h-1.65zM289.58 368.78h1.65v1.65h-1.65zM295.08 368.78h1.65v1.65h-1.65zM300.58 368.78h1.65v1.65h-1.65zM306.08 368.78h1.65v1.65h-1.65zM311.58 368.78h1.65v1.65h-1.65zM317.08 368.78h1.65v1.65h-1.65zM284.08 374.28h1.65v1.65h-1.65zM289.58 374.28h1.65v1.65h-1.65zM295.08 374.28h1.65v1.65h-1.65zM300.58 374.28h1.65v1.65h-1.65zM306.08 374.28h1.65v1.65h-1.65zM311.58 374.28h1.65v1.65h-1.65zM317.08 374.28h1.65v1.65h-1.65zM284.08 379.78h1.65v1.65h-1.65zM289.58 379.78h1.65v1.65h-1.65zM295.08 379.78h1.65v1.65h-1.65zM300.58 379.78h1.65v1.65h-1.65zM306.08 379.78h1.65v1.65h-1.65zM311.58 379.78h1.65v1.65h-1.65zM317.08 379.78h1.65v1.65h-1.65zM284.08 385.28h1.65v1.65h-1.65zM289.58 385.28h1.65v1.65h-1.65zM295.08 385.28h1.65v1.65h-1.65zM300.58 385.28h1.65v1.65h-1.65zM306.08 385.28h1.65v1.65h-1.65zM311.58 385.28h1.65v1.65h-1.65zM317.08 385.28h1.65v1.65h-1.65zM284.08 390.78h1.65v1.65h-1.65zM289.58 390.78h1.65v1.65h-1.65zM295.08 390.78h1.65v1.65h-1.65zM300.58 390.78h1.65v1.65h-1.65zM306.08 390.78h1.65v1.65h-1.65zM311.58 390.78h1.65v1.65h-1.65zM317.08 390.78h1.65v1.65h-1.65zM284.08 396.28h1.65v1.65h-1.65zM289.58 396.28h1.65v1.65h-1.65zM295.08 396.28h1.65v1.65h-1.65zM300.58 396.28h1.65v1.65h-1.65zM306.08 396.28h1.65v1.65h-1.65zM311.58 396.28h1.65v1.65h-1.65zM317.08 396.28h1.65v1.65h-1.65z" fill="#000"/>
<rect x="283.6" y="294.3" width="33.8" height="105.1" fill="none" stroke="#2a2a2a" stroke-width="1.0"/>
<rect x="283.6" y="272.2" width="33.8" height="22.1" fill="#fff"/>
<rect x="283.6" y="272.2" width="33.8" height="22.1" fill="none" stroke="#2a2a2a" stroke-width="1.0"/>
<line x1="300.5" y1="271.9" x2="300.5" y2="272.5" stroke="#2a2a2a" stroke-width="1.0"/>
<line x1="294.9" y1="271.9" x2="306.1" y2="271.9" stroke="#2a2a2a" stroke-width="1.0"/>
<line x1="294.9" y1="272.5" x2="306.1" y2="272.5" stroke="#2a2a2a" stroke-width="1.0"/>
<line x1="300.5" y1="395.5" x2="300.5" y2="403.3" stroke="#2a2a2a" stroke-width="1.0"/>
<line x1="294.9" y1="395.5" x2="306.1" y2="395.5" stroke="#2a2a2a" stroke-width="1.0"/>
<line x1="294.9" y1="403.3" x2="306.1" y2="403.3" stroke="#2a2a2a" stroke-width="1.0"/>
<line x1="300.5" y1="290.8" x2="300.5" y2="297.1" stroke="#2a2a2a" stroke-width="1.0"/>
<line x1="294.9" y1="290.8" x2="306.1" y2="290.8" stroke="#2a2a2a" stroke-width="1.0"/>
<line x1="294.9" y1="297.1" x2="306.1" y2="297.1" stroke="#2a2a2a" stroke-width="1.0"/>
<rect x="48.4" y="241.3" width="280.1" height="181.3" fill="none" stroke="#2a2a2a" stroke-width="1.0"/>
<line x1="48.4" y1="241.3" x2="50.9" y2="241.3" stroke="#2a2a2a" stroke-width="1.0"/>
<line x1="326" y1="241.3" x2="328.5" y2="241.3" stroke="#2a2a2a" stroke-width="1.0"/>
<text transform="translate(43,245.6) scale(1.05,1)" font-size="12.3" text-anchor="end">2</text>
<line x1="48.4" y1="286.62" x2="50.9" y2="286.62" stroke="#2a2a2a" stroke-width="1.0"/>
<line x1="326" y1="286.62" x2="328.5" y2="286.62" stroke="#2a2a2a" stroke-width="1.0"/>
<text transform="translate(43,290.93) scale(1.05,1)" font-size="12.3" text-anchor="end">1.5</text>
<line x1="48.4" y1="331.95" x2="50.9" y2="331.95" stroke="#2a2a2a" stroke-width="1.0"/>
<line x1="326" y1="331.95" x2="328.5" y2="331.95" stroke="#2a2a2a" stroke-width="1.0"/>
<text transform="translate(43,336.25) scale(1.05,1)" font-size="12.3" text-anchor="end">1</text>
<line x1="48.4" y1="377.28" x2="50.9" y2="377.28" stroke="#2a2a2a" stroke-width="1.0"/>
<line x1="326" y1="377.28" x2="328.5" y2="377.28" stroke="#2a2a2a" stroke-width="1.0"/>
<text transform="translate(43,381.58) scale(1.05,1)" font-size="12.3" text-anchor="end">0.5</text>
<line x1="48.4" y1="422.6" x2="50.9" y2="422.6" stroke="#2a2a2a" stroke-width="1.0"/>
<line x1="326" y1="422.6" x2="328.5" y2="422.6" stroke="#2a2a2a" stroke-width="1.0"/>
<text transform="translate(43,426.9) scale(1.05,1)" font-size="12.3" text-anchor="end">0</text>
<text transform="translate(180,236.1) scale(1.06,1)" font-size="14.5" text-anchor="middle">Fumarate</text>
<g transform="translate(12.2,372.8) rotate(-90)"><text transform="scale(1.14,1)" x="0" y="0" font-size="13.3">µmol/g</text><text transform="translate(46.7,6.3) scale(1.17,1)" x="0" y="0" font-size="10.7">DW</text></g>
<line x1="76.3" y1="491.5" x2="76.3" y2="510.6" stroke="#2a2a2a" stroke-width="1.0"/>
<line x1="70.7" y1="491.5" x2="81.9" y2="491.5" stroke="#2a2a2a" stroke-width="1.0"/>
<line x1="70.7" y1="510.6" x2="81.9" y2="510.6" stroke="#2a2a2a" stroke-width="1.0"/>
<rect x="59.05" y="510.5" width="34.5" height="126.35" fill="#000"/>
<rect x="115.45" y="518.9" width="33.8" height="117.85" fill="#fff"/>
<clipPath id="c17"><rect x="115.45" y="518.9" width="33.8" height="117.85"/></clipPath>
<path clip-path="url(#c17)" d="M114.45 631.2L150.25 667M114.45 625.7L150.25 661.5M114.45 620.2L150.25 656M114.45 614.7L150.25 650.5M114.45 609.2L150.25 645M114.45 603.7L150.25 639.5M114.45 598.2L150.25 634M114.45 592.7L150.25 628.5M114.45 587.2L150.25 623M114.45 581.7L150.25 617.5M114.45 576.2L150.25 612M114.45 570.7L150.25 606.5M114.45 565.2L150.25 601M114.45 559.7L150.25 595.5M114.45 554.2L150.25 590M114.45 548.7L150.25 584.5M114.45 543.2L150.25 579M114.45 537.7L150.25 573.5M114.45 532.2L150.25 568M114.45 526.7L150.25 562.5M114.45 521.2L150.25 557M114.45 515.7L150.25 551.5M114.45 510.2L150.25 546M114.45 504.7L150.25 540.5M114.45 499.2L150.25 535M114.45 493.7L150.25 529.5M114.45 488.2L150.25 524" stroke="#1c1c1c" stroke-width="1.0" fill="none"/>
<rect x="115.45" y="518.9" width="33.8" height="117.85" fill="none" stroke="#2a2a2a" stroke-width="1.0"/>
<rect x="115.45" y="510.4" width="33.8" height="8.5" fill="#fff"/>
<clipPath id="c18"><rect x="115.45" y="510.4" width="33.8" height="8.5"/></clipPath>
<path clip-path="url(#c18)" d="M120.95 510.4V518.9M126.45 510.4V518.9M131.95 510.4V518.9M137.45 510.4V518.9M142.95 510.4V518.9M148.45 510.4V518.9" stroke="#1c1c1c" stroke-width="1.0" fill="none"/>
<rect x="115.45" y="510.4" width="33.8" height="8.5" fill="none" stroke="#2a2a2a" stroke-width="1.0"/>
<line x1="132.35" y1="500.1" x2="132.35" y2="538.9" stroke="#2a2a2a" stroke-width="1.0"/>
<line x1="126.75" y1="500.1" x2="137.95" y2="500.1" stroke="#2a2a2a" stroke-width="1.0"/>
<line x1="126.75" y1="538.9" x2="137.95" y2="538.9" stroke="#2a2a2a" stroke-width="1.0"/>
<line x1="132.35" y1="507.3" x2="132.35" y2="512.8" stroke="#2a2a2a" stroke-width="1.0"/>
<line x1="126.75" y1="507.3" x2="137.95" y2="507.3" stroke="#2a2a2a" stroke-width="1.0"/>
<line x1="126.75" y1="512.8" x2="137.95" y2="512.8" stroke="#2a2a2a" stroke-width="1.0"/>
<rect x="171.5" y="527.2" width="33.8" height="109.55" fill="#fff"/>
<clipPath id="c19"><rect x="171.5" y="527.2" width="33.8" height="109.55"/></clipPath>
<path clip-path="url(#c19)" d="M170.5 533.75L206.3 497.95M170.5 539.25L206.3 503.45M170.5 544.75L206.3 508.95M170.5 550.25L206.3 514.45M170.5 555.75L206.3 519.95M170.5 561.25L206.3 525.45M170.5 566.75L206.3 530.95M170.5 572.25L206.3 536.45M170.5 577.75L206.3 541.95M170.5 583.25L206.3 547.45M170.5 588.75L206.3 552.95M170.5 594.25L206.3 558.45M170.5 599.75L206.3 563.95M170.5 605.25L206.3 569.45M170.5 610.75L206.3 574.95M170.5 616.25L206.3 580.45M170.5 621.75L206.3 585.95M170.5 627.25L206.3 591.45M170.5 632.75L206.3 596.95M170.5 638.25L206.3 602.45M170.5 643.75L206.3 607.95M170.5 649.25L206.3 613.45M170.5 654.75L206.3 618.95M170.5 660.25L206.3 624.45M170.5 665.75L206.3 629.95M170.5 671.25L206.3 635.45" stroke="#1c1c1c" stroke-width="1.0" fill="none"/>
<rect x="171.5" y="527.2" width="33.8" height="109.55" fill="none" stroke="#2a2a2a" stroke-width="1.0"/>
<rect x="171.5" y="518.1" width="33.8" height="9.1" fill="#fff"/>
<clipPath id="c20"><rect x="171.5" y="518.1" width="33.8" height="9.1"/></clipPath>
<path clip-path="url(#c20)" d="M174.07 516.88h1.65v1.65h-1.65zM179.57 516.88h1.65v1.65h-1.65zM185.07 516.88h1.65v1.65h-1.65zM190.57 516.88h1.65v1.65h-1.65zM196.07 516.88h1.65v1.65h-1.65zM201.57 516.88h1.65v1.65h-1.65zM174.07 522.38h1.65v1.65h-1.65zM179.57 522.38h1.65v1.65h-1.65zM185.07 522.38h1.65v1.65h-1.65zM190.57 522.38h1.65v1.65h-1.65zM196.07 522.38h1.65v1.65h-1.65zM201.57 522.38h1.65v1.65h-1.65z" fill="#000"/>
<rect x="171.5" y="518.1" width="33.8" height="9.1" fill="none" stroke="#2a2a2a" stroke-width="1.0"/>
<rect x="171.5" y="513.6" width="33.8" height="4.5" fill="#fff"/>
<rect x="171.5" y="513.6" width="33.8" height="4.5" fill="none" stroke="#2a2a2a" stroke-width="1.0"/>
<line x1="188.4" y1="525.7" x2="188.4" y2="528.5" stroke="#2a2a2a" stroke-width="1.0"/>
<line x1="182.8" y1="525.7" x2="194" y2="525.7" stroke="#2a2a2a" stroke-width="1.0"/>
<line x1="182.8" y1="528.5" x2="194" y2="528.5" stroke="#2a2a2a" stroke-width="1.0"/>
<line x1="188.4" y1="513.1" x2="188.4" y2="514.1" stroke="#2a2a2a" stroke-width="1.2"/>
<line x1="182.8" y1="513.1" x2="194" y2="513.1" stroke="#2a2a2a" stroke-width="1.2"/>
<line x1="182.8" y1="514.1" x2="194" y2="514.1" stroke="#2a2a2a" stroke-width="1.2"/>
<rect x="227.55" y="524.2" width="33.8" height="112.55" fill="#fff"/>
<clipPath id="c21"><rect x="227.55" y="524.2" width="33.8" height="112.55"/></clipPath>
<path clip-path="url(#c21)" d="M226.55 527.2L262.35 491.4M226.55 532.7L262.35 496.9M226.55 538.2L262.35 502.4M226.55 543.7L262.35 507.9M226.55 549.2L262.35 513.4M226.55 554.7L262.35 518.9M226.55 560.2L262.35 524.4M226.55 565.7L262.35 529.9M226.55 571.2L262.35 535.4M226.55 576.7L262.35 540.9M226.55 582.2L262.35 546.4M226.55 587.7L262.35 551.9M226.55 593.2L262.35 557.4M226.55 598.7L262.35 562.9M226.55 604.2L262.35 568.4M226.55 609.7L262.35 573.9M226.55 615.2L262.35 579.4M226.55 620.7L262.35 584.9M226.55 626.2L262.35 590.4M226.55 631.7L262.35 595.9M226.55 637.2L262.35 601.4M226.55 642.7L262.35 606.9M226.55 648.2L262.35 612.4M226.55 653.7L262.35 617.9M226.55 659.2L262.35 623.4M226.55 664.7L262.35 628.9M226.55 670.2L262.35 634.4" stroke="#1c1c1c" stroke-width="1.0" fill="none"/>
<rect x="227.55" y="524.2" width="33.8" height="112.55" fill="none" stroke="#2a2a2a" stroke-width="1.0"/>
<rect x="227.55" y="511" width="33.8" height="13.2" fill="#fff"/>
<clipPath id="c22"><rect x="227.55" y="511" width="33.8" height="13.2"/></clipPath>
<path clip-path="url(#c22)" d="M229.32 505.78h1.65v1.65h-1.65zM234.82 505.78h1.65v1.65h-1.65zM240.32 505.78h1.65v1.65h-1.65zM245.82 505.78h1.65v1.65h-1.65zM251.32 505.78h1.65v1.65h-1.65zM256.82 505.78h1.65v1.65h-1.65zM229.32 511.28h1.65v1.65h-1.65zM234.82 511.28h1.65v1.65h-1.65zM240.32 511.28h1.65v1.65h-1.65zM245.82 511.28h1.65v1.65h-1.65zM251.32 511.28h1.65v1.65h-1.65zM256.82 511.28h1.65v1.65h-1.65zM229.32 516.77h1.65v1.65h-1.65zM234.82 516.77h1.65v1.65h-1.65zM240.32 516.77h1.65v1.65h-1.65zM245.82 516.77h1.65v1.65h-1.65zM251.32 516.77h1.65v1.65h-1.65zM256.82 516.77h1.65v1.65h-1.65zM229.32 522.27h1.65v1.65h-1.65zM234.82 522.27h1.65v1.65h-1.65zM240.32 522.27h1.65v1.65h-1.65zM245.82 522.27h1.65v1.65h-1.65zM251.32 522.27h1.65v1.65h-1.65zM256.82 522.27h1.65v1.65h-1.65z" fill="#000"/>
<rect x="227.55" y="511" width="33.8" height="13.2" fill="none" stroke="#2a2a2a" stroke-width="1.0"/>
<rect x="227.55" y="507" width="33.8" height="4" fill="#fff"/>
<rect x="227.55" y="507" width="33.8" height="4" fill="none" stroke="#2a2a2a" stroke-width="1.0"/>
<line x1="244.45" y1="509.5" x2="244.45" y2="512.3" stroke="#2a2a2a" stroke-width="1.0"/>
<line x1="238.85" y1="509.5" x2="250.05" y2="509.5" stroke="#2a2a2a" stroke-width="1.0"/>
<line x1="238.85" y1="512.3" x2="250.05" y2="512.3" stroke="#2a2a2a" stroke-width="1.0"/>
<line x1="244.45" y1="523.7" x2="244.45" y2="524.7" stroke="#2a2a2a" stroke-width="1.2"/>
<line x1="238.85" y1="523.7" x2="250.05" y2="523.7" stroke="#2a2a2a" stroke-width="1.2"/>
<line x1="238.85" y1="524.7" x2="250.05" y2="524.7" stroke="#2a2a2a" stroke-width="1.2"/>
<rect x="283.6" y="536.2" width="33.8" height="100.55" fill="#fff"/>
<clipPath id="c23"><rect x="283.6" y="536.2" width="33.8" height="100.55"/></clipPath>
<path clip-path="url(#c23)" d="M282.6 542.65L318.4 506.85M282.6 548.15L318.4 512.35M282.6 553.65L318.4 517.85M282.6 559.15L318.4 523.35M282.6 564.65L318.4 528.85M282.6 570.15L318.4 534.35M282.6 575.65L318.4 539.85M282.6 581.15L318.4 545.35M282.6 586.65L318.4 550.85M282.6 592.15L318.4 556.35M282.6 597.65L318.4 561.85M282.6 603.15L318.4 567.35M282.6 608.65L318.4 572.85M282.6 614.15L318.4 578.35M282.6 619.65L318.4 583.85M282.6 625.15L318.4 589.35M282.6 630.65L318.4 594.85M282.6 636.15L318.4 600.35M282.6 641.65L318.4 605.85M282.6 647.15L318.4 611.35M282.6 652.65L318.4 616.85M282.6 658.15L318.4 622.35M282.6 663.65L318.4 627.85M282.6 669.15L318.4 633.35" stroke="#1c1c1c" stroke-width="1.0" fill="none"/>
<rect x="283.6" y="536.2" width="33.8" height="100.55" fill="none" stroke="#2a2a2a" stroke-width="1.0"/>
<rect x="283.6" y="516.6" width="33.8" height="19.6" fill="#fff"/>
<clipPath id="c24"><rect x="283.6" y="516.6" width="33.8" height="19.6"/></clipPath>
<path clip-path="url(#c24)" d="M284.08 511.28h1.65v1.65h-1.65zM289.58 511.28h1.65v1.65h-1.65zM295.08 511.28h1.65v1.65h-1.65zM300.58 511.28h1.65v1.65h-1.65zM306.08 511.28h1.65v1.65h-1.65zM311.58 511.28h1.65v1.65h-1.65zM317.08 511.28h1.65v1.65h-1.65zM284.08 516.77h1.65v1.65h-1.65zM289.58 516.77h1.65v1.65h-1.65zM295.08 516.77h1.65v1.65h-1.65zM300.58 516.77h1.65v1.65h-1.65zM306.08 516.77h1.65v1.65h-1.65zM311.58 516.77h1.65v1.65h-1.65zM317.08 516.77h1.65v1.65h-1.65zM284.08 522.27h1.65v1.65h-1.65zM289.58 522.27h1.65v1.65h-1.65zM295.08 522.27h1.65v1.65h-1.65zM300.58 522.27h1.65v1.65h-1.65zM306.08 522.27h1.65v1.65h-1.65zM311.58 522.27h1.65v1.65h-1.65zM317.08 522.27h1.65v1.65h-1.65zM284.08 527.77h1.65v1.65h-1.65zM289.58 527.77h1.65v1.65h-1.65zM295.08 527.77h1.65v1.65h-1.65zM300.58 527.77h1.65v1.65h-1.65zM306.08 527.77h1.65v1.65h-1.65zM311.58 527.77h1.65v1.65h-1.65zM317.08 527.77h1.65v1.65h-1.65zM284.08 533.27h1.65v1.65h-1.65zM289.58 533.27h1.65v1.65h-1.65zM295.08 533.27h1.65v1.65h-1.65zM300.58 533.27h1.65v1.65h-1.65zM306.08 533.27h1.65v1.65h-1.65zM311.58 533.27h1.65v1.65h-1.65zM317.08 533.27h1.65v1.65h-1.65z" fill="#000"/>
<rect x="283.6" y="516.6" width="33.8" height="19.6" fill="none" stroke="#2a2a2a" stroke-width="1.0"/>
<rect x="283.6" y="509.6" width="33.8" height="7" fill="#fff"/>
<rect x="283.6" y="509.6" width="33.8" height="7" fill="none" stroke="#2a2a2a" stroke-width="1.0"/>
<line x1="300.5" y1="534.2" x2="300.5" y2="538.5" stroke="#2a2a2a" stroke-width="1.0"/>
<line x1="294.9" y1="534.2" x2="306.1" y2="534.2" stroke="#2a2a2a" stroke-width="1.0"/>
<line x1="294.9" y1="538.5" x2="306.1" y2="538.5" stroke="#2a2a2a" stroke-width="1.0"/>
<line x1="300.5" y1="515" x2="300.5" y2="517.8" stroke="#2a2a2a" stroke-width="1.0"/>
<line x1="294.9" y1="515" x2="306.1" y2="515" stroke="#2a2a2a" stroke-width="1.0"/>
<line x1="294.9" y1="517.8" x2="306.1" y2="517.8" stroke="#2a2a2a" stroke-width="1.0"/>
<line x1="300.5" y1="508.3" x2="300.5" y2="511" stroke="#2a2a2a" stroke-width="1.0"/>
<line x1="294.9" y1="508.3" x2="306.1" y2="508.3" stroke="#2a2a2a" stroke-width="1.0"/>
<line x1="294.9" y1="511" x2="306.1" y2="511" stroke="#2a2a2a" stroke-width="1.0"/>
<rect x="48.4" y="467.9" width="280.1" height="168.85" fill="none" stroke="#2a2a2a" stroke-width="1.0"/>
<line x1="48.4" y1="467.9" x2="50.9" y2="467.9" stroke="#2a2a2a" stroke-width="1.0"/>
<line x1="326" y1="467.9" x2="328.5" y2="467.9" stroke="#2a2a2a" stroke-width="1.0"/>
<text transform="translate(43,472.2) scale(1.05,1)" font-size="12.3" text-anchor="end">6</text>
<line x1="48.4" y1="524.18" x2="50.9" y2="524.18" stroke="#2a2a2a" stroke-width="1.0"/>
<line x1="326" y1="524.18" x2="328.5" y2="524.18" stroke="#2a2a2a" stroke-width="1.0"/>
<text transform="translate(43,528.48) scale(1.05,1)" font-size="12.3" text-anchor="end">4</text>
<line x1="48.4" y1="580.47" x2="50.9" y2="580.47" stroke="#2a2a2a" stroke-width="1.0"/>
<line x1="326" y1="580.47" x2="328.5" y2="580.47" stroke="#2a2a2a" stroke-width="1.0"/>
<text transform="translate(43,584.77) scale(1.05,1)" font-size="12.3" text-anchor="end">2</text>
<line x1="48.4" y1="636.75" x2="50.9" y2="636.75" stroke="#2a2a2a" stroke-width="1.0"/>
<line x1="326" y1="636.75" x2="328.5" y2="636.75" stroke="#2a2a2a" stroke-width="1.0"/>
<text transform="translate(43,641.05) scale(1.05,1)" font-size="12.3" text-anchor="end">0</text>
<text transform="translate(184.6,459.7) scale(1.06,1)" font-size="14.5" text-anchor="middle">G6P</text>
<g transform="translate(18.3,589.1) rotate(-90)"><text transform="scale(1.14,1)" x="0" y="0" font-size="13.3">µmol/g</text><text transform="translate(46.7,6.3) scale(1.17,1)" x="0" y="0" font-size="10.7">DW</text></g>
<text transform="translate(79.1,658) scale(1.09,1)" font-size="14.5" text-anchor="middle">Total</text>
<text transform="translate(76.3,680) scale(1.09,1)" font-size="14.5" text-anchor="middle">Broth</text>
<text transform="translate(129.4,658) scale(1.05,1)" font-size="14.5" text-anchor="middle">EX +</text>
<text transform="translate(132.1,680) scale(1.05,1)" font-size="14.5" text-anchor="middle">diff.</text>
<text transform="translate(189.4,666.9) scale(1.0,1)" font-size="13.7" text-anchor="middle">"40%"</text>
<text transform="translate(245.15,666.9) scale(1.0,1)" font-size="13.7" text-anchor="middle">"60%"</text>
<text transform="translate(301.3,666.9) scale(1.0,1)" font-size="13.7" text-anchor="middle">"100%"</text>
<rect x="59.3" y="699.4" width="266.8" height="150.4" fill="none" stroke="#2a2a2a" stroke-width="1.0"/>
<rect x="69.25" y="705.4" width="54.5" height="16.8" fill="#000"/>
<text transform="translate(135.2,720.4) scale(1.015,1)" font-size="15.2" text-anchor="start">Total broth (TB)</text>
<rect x="69.6" y="729.82" width="53.8" height="16.6" fill="#fff"/>
<clipPath id="c25"><rect x="69.6" y="729.82" width="53.8" height="16.6"/></clipPath>
<path clip-path="url(#c25)" d="M68.6 745.35L124.4 801.15M68.6 739.85L124.4 795.65M68.6 734.35L124.4 790.15M68.6 728.85L124.4 784.65M68.6 723.35L124.4 779.15M68.6 717.85L124.4 773.65M68.6 712.35L124.4 768.15M68.6 706.85L124.4 762.65M68.6 701.35L124.4 757.15M68.6 695.85L124.4 751.65M68.6 690.35L124.4 746.15M68.6 684.85L124.4 740.65M68.6 679.35L124.4 735.15" stroke="#1c1c1c" stroke-width="1.0" fill="none"/>
<rect x="69.6" y="729.82" width="53.8" height="16.6" fill="none" stroke="#2a2a2a" stroke-width="1.0"/>
<text transform="translate(135.2,744.33) scale(1.015,1)" font-size="15.2" text-anchor="start">TB - EX (calculated)</text>
<rect x="69.6" y="754.14" width="53.8" height="16.6" fill="#fff"/>
<clipPath id="c26"><rect x="69.6" y="754.14" width="53.8" height="16.6"/></clipPath>
<path clip-path="url(#c26)" d="M73.9 754.14V770.74M79.4 754.14V770.74M84.9 754.14V770.74M90.4 754.14V770.74M95.9 754.14V770.74M101.4 754.14V770.74M106.9 754.14V770.74M112.4 754.14V770.74M117.9 754.14V770.74" stroke="#1c1c1c" stroke-width="1.0" fill="none"/>
<rect x="69.6" y="754.14" width="53.8" height="16.6" fill="none" stroke="#2a2a2a" stroke-width="1.0"/>
<text transform="translate(135.2,768.26) scale(1.015,1)" font-size="15.2" text-anchor="start">Culture filtrate (EX)</text>
<rect x="69.6" y="778.46" width="53.8" height="16.6" fill="#fff"/>
<clipPath id="c27"><rect x="69.6" y="778.46" width="53.8" height="16.6"/></clipPath>
<path clip-path="url(#c27)" d="M68.6 783.15L124.4 727.35M68.6 788.65L124.4 732.85M68.6 794.15L124.4 738.35M68.6 799.65L124.4 743.85M68.6 805.15L124.4 749.35M68.6 810.65L124.4 754.85M68.6 816.15L124.4 760.35M68.6 821.65L124.4 765.85M68.6 827.15L124.4 771.35M68.6 832.65L124.4 776.85M68.6 838.15L124.4 782.35M68.6 843.65L124.4 787.85M68.6 849.15L124.4 793.35" stroke="#1c1c1c" stroke-width="1.0" fill="none"/>
<rect x="69.6" y="778.46" width="53.8" height="16.6" fill="none" stroke="#2a2a2a" stroke-width="1.0"/>
<text transform="translate(135.2,792.19) scale(1.015,1)" font-size="15.2" text-anchor="start">Cell pellet (IC)</text>
<rect x="69.6" y="802.78" width="53.8" height="16.6" fill="#fff"/>
<clipPath id="c28"><rect x="69.6" y="802.78" width="53.8" height="16.6"/></clipPath>
<path clip-path="url(#c28)" d="M69.67 797.17h1.65v1.65h-1.65zM75.17 797.17h1.65v1.65h-1.65zM80.67 797.17h1.65v1.65h-1.65zM86.17 797.17h1.65v1.65h-1.65zM91.67 797.17h1.65v1.65h-1.65zM97.17 797.17h1.65v1.65h-1.65zM102.67 797.17h1.65v1.65h-1.65zM108.17 797.17h1.65v1.65h-1.65zM113.67 797.17h1.65v1.65h-1.65zM119.17 797.17h1.65v1.65h-1.65zM69.67 802.67h1.65v1.65h-1.65zM75.17 802.67h1.65v1.65h-1.65zM80.67 802.67h1.65v1.65h-1.65zM86.17 802.67h1.65v1.65h-1.65zM91.67 802.67h1.65v1.65h-1.65zM97.17 802.67h1.65v1.65h-1.65zM102.67 802.67h1.65v1.65h-1.65zM108.17 802.67h1.65v1.65h-1.65zM113.67 802.67h1.65v1.65h-1.65zM119.17 802.67h1.65v1.65h-1.65zM69.67 808.17h1.65v1.65h-1.65zM75.17 808.17h1.65v1.65h-1.65zM80.67 808.17h1.65v1.65h-1.65zM86.17 808.17h1.65v1.65h-1.65zM91.67 808.17h1.65v1.65h-1.65zM97.17 808.17h1.65v1.65h-1.65zM102.67 808.17h1.65v1.65h-1.65zM108.17 808.17h1.65v1.65h-1.65zM113.67 808.17h1.65v1.65h-1.65zM119.17 808.17h1.65v1.65h-1.65zM69.67 813.67h1.65v1.65h-1.65zM75.17 813.67h1.65v1.65h-1.65zM80.67 813.67h1.65v1.65h-1.65zM86.17 813.67h1.65v1.65h-1.65zM91.67 813.67h1.65v1.65h-1.65zM97.17 813.67h1.65v1.65h-1.65zM102.67 813.67h1.65v1.65h-1.65zM108.17 813.67h1.65v1.65h-1.65zM113.67 813.67h1.65v1.65h-1.65zM119.17 813.67h1.65v1.65h-1.65zM69.67 819.17h1.65v1.65h-1.65zM75.17 819.17h1.65v1.65h-1.65zM80.67 819.17h1.65v1.65h-1.65zM86.17 819.17h1.65v1.65h-1.65zM91.67 819.17h1.65v1.65h-1.65zM97.17 819.17h1.65v1.65h-1.65zM102.67 819.17h1.65v1.65h-1.65zM108.17 819.17h1.65v1.65h-1.65zM113.67 819.17h1.65v1.65h-1.65zM119.17 819.17h1.65v1.65h-1.65z" fill="#000"/>
<rect x="69.6" y="802.78" width="53.8" height="16.6" fill="none" stroke="#2a2a2a" stroke-width="1.0"/>
<text transform="translate(135.2,816.12) scale(1.015,1)" font-size="15.2" text-anchor="start">Quenching solution (QS)</text>
<rect x="69.6" y="827.1" width="53.8" height="16.6" fill="#fff"/>
<rect x="69.6" y="827.1" width="53.8" height="16.6" fill="none" stroke="#2a2a2a" stroke-width="1.0"/>
<text transform="translate(137.4,840.05) scale(1.015,1)" font-size="15.2" text-anchor="start">Washing solution (WS)</text>
</svg></body></html>
